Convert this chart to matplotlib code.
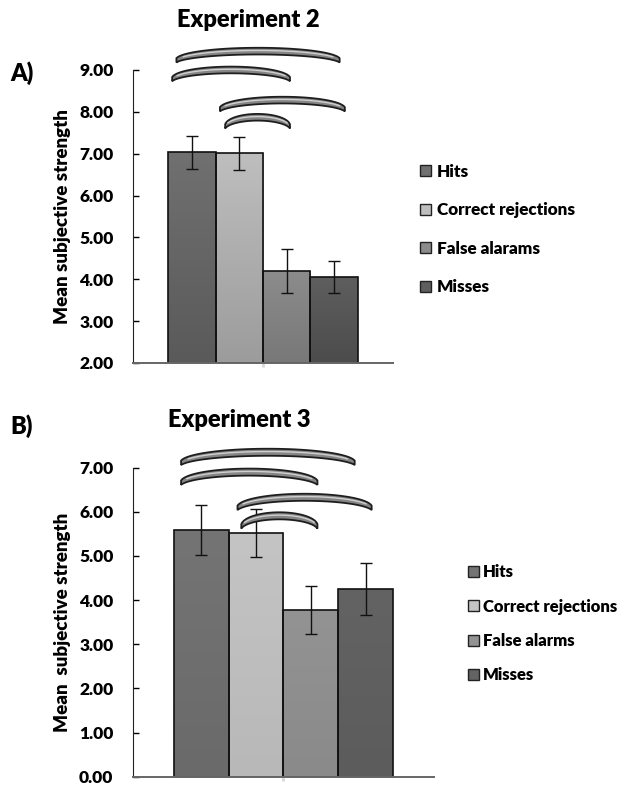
import numpy as np
import matplotlib.pyplot as plt
from matplotlib.patches import Patch, Polygon, Rectangle
from matplotlib.colors import LinearSegmentedColormap

plt.rcParams['font.family'] = ['Lato', 'DejaVu Sans']
plt.rcParams['font.weight'] = 'heavy'

conditions = ['Hits', 'Correct rejections', 'False alarams', 'Misses']
conditions_b = ['Hits', 'Correct rejections', 'False alarms', 'Misses']
# (top colour, bottom colour) of each bar's gradient
colors_a = [('#707070', '#5a5a5a'), ('#bebebe', '#9c9c9c'), ('#8c8c8c', '#787878'), ('#5e5e5e', '#4c4c4c')]
colors_b = [('#747474', '#6a6a6a'), ('#c4c4c4', '#b8b8b8'), ('#939393', '#8a8a8a'), ('#636363', '#5c5c5c')]

exp2_means = [7.03, 7.01, 4.20, 4.05]
exp2_err = [0.40, 0.40, 0.52, 0.39]
exp3_means = [5.59, 5.52, 3.77, 4.25]
exp3_err = [0.57, 0.55, 0.54, 0.59]

# significance arcs: (x start, x end, y peak)
exp2_arcs = [(-0.33, 3.12, 9.45), (-0.42, 2.07, 9.00), (0.59, 3.23, 8.28), (0.70, 2.07, 7.87)]
exp3_arcs = [(-0.37, 2.80, 7.35), (-0.37, 2.12, 6.90), (0.66, 3.11, 6.33), (0.73, 2.12, 5.91)]

W = 'heavy'


def draw_arc(ax, x0, x1, ypeak, rise, thick):
    th = np.linspace(np.radians(8), np.radians(172), 80)
    mid = (x0 + x1) / 2
    half = (x1 - x0) / 2
    x = mid - half * np.cos(th) / np.cos(th[0])
    s = (np.sin(th) - np.sin(th[0])) / (1 - np.sin(th[0]))
    yc = ypeak - rise + rise * s
    w = thick * (0.4 + 0.6 * np.sin(th) ** 0.5)
    top = np.column_stack([x, yc + w / 2])
    bot = np.column_stack([x[::-1], (yc - w / 2)[::-1]])
    poly = Polygon(np.vstack([top, bot]), closed=True, facecolor='#858585',
                   edgecolor='#1e1e1e', lw=1.3, clip_on=False, zorder=5)
    ax.add_patch(poly)
    ax.plot(x[8:-8], (yc + w * 0.1)[8:-8], color='#cfcfcf', lw=1.0,
            clip_on=False, zorder=6, solid_capstyle='round')


def panel(ax, means, errs, arcs, ylim, rise, thick, cols):
    x = np.arange(len(means))
    bars = ax.bar(x, means, width=1.0, color=[c[1] for c in cols], edgecolor='none', zorder=2)
    grad = np.linspace(0, 1, 100).reshape(-1, 1)
    for b, c in zip(bars, cols):
        cmap = LinearSegmentedColormap.from_list('g', [c[1], c[0]])
        im = ax.imshow(grad, cmap=cmap, aspect='auto', origin='lower', zorder=2.1,
                       extent=[b.get_x(), b.get_x() + b.get_width(), ylim[0], b.get_height()])
        im.set_clip_path(b)
        ax.add_patch(Rectangle((b.get_x(), ylim[0]), b.get_width(), b.get_height() - ylim[0],
                               fill=False, edgecolor='#111111', lw=1.2, zorder=2.2))
    ax.errorbar(x, means, yerr=errs, fmt='none', ecolor='#111111', elinewidth=1.0,
                capsize=4, capthick=1.0, zorder=3)
    ax.set_ylim(*ylim)
    ax.set_xlim(-1.25, 4.25)
    ticks = np.arange(ylim[0], ylim[1] + 0.01, 1)
    ax.set_yticks(ticks)
    ax.set_yticklabels(['%.2f' % v for v in ticks], fontsize=12.5, fontweight=W)
    ax.tick_params(axis='y', direction='in', length=4, width=1, pad=14)
    ax.set_xticks([1.5])
    ax.set_xticklabels([''])
    ax.tick_params(axis='x', direction='out', length=3, width=2, color='#d8d8d8')
    for s in ['top', 'right']:
        ax.spines[s].set_visible(False)
    ax.spines['left'].set_color('#222222')
    ax.spines['bottom'].set_color('#666666')
    ax.spines['bottom'].set_linewidth(1.4)
    for a in arcs:
        draw_arc(ax, a[0], a[1], a[2], rise, thick)


fig = plt.figure(figsize=(6.21, 7.87), dpi=100)

ax1 = fig.add_axes([0.214, 0.5388, 0.419, 0.3723])
panel(ax1, exp2_means, exp2_err, exp2_arcs, (2, 9), 0.22, 0.16, colors_a)
ax1.set_ylabel('Mean subjective strength', fontsize=13.5, fontweight=W, labelpad=6)
fig.text(0.40, 0.974, 'Experiment 2', ha='center', va='center', fontsize=17, fontweight=W)
fig.text(0.016, 0.907, 'A)', ha='left', va='center', fontsize=17, fontweight=W)
h1 = [Patch(facecolor=c[0], edgecolor='#222222') for c in colors_a]
fig.legend(h1, conditions, loc='upper left', bbox_to_anchor=(0.676, 0.792), frameon=False,
           fontsize=12.3, handlelength=0.65, handleheight=0.65, handletextpad=0.35,
           labelspacing=1.32, borderpad=0, borderaxespad=0, prop={'weight': W, 'size': 12.3})

ax2 = fig.add_axes([0.214, 0.0131, 0.485, 0.3926])
panel(ax2, exp3_means, exp3_err, exp3_arcs, (0, 7), 0.24, 0.16, colors_b)
ax2.set_ylabel('Mean  subjective strength', fontsize=13.5, fontweight=W, labelpad=6)
fig.text(0.385, 0.466, 'Experiment 3', ha='center', va='center', fontsize=17, fontweight=W)
fig.text(0.016, 0.459, 'B)', ha='left', va='center', fontsize=17, fontweight=W)
h2 = [Patch(facecolor=c[0], edgecolor='#222222') for c in colors_b]
fig.legend(h2, conditions_b, loc='upper left', bbox_to_anchor=(0.754, 0.283), frameon=False,
           handlelength=0.65, handleheight=0.65, handletextpad=0.25,
           labelspacing=1.1, borderpad=0, borderaxespad=0, prop={'weight': W, 'size': 12.0})

fig.savefig('out.png', dpi=100)
